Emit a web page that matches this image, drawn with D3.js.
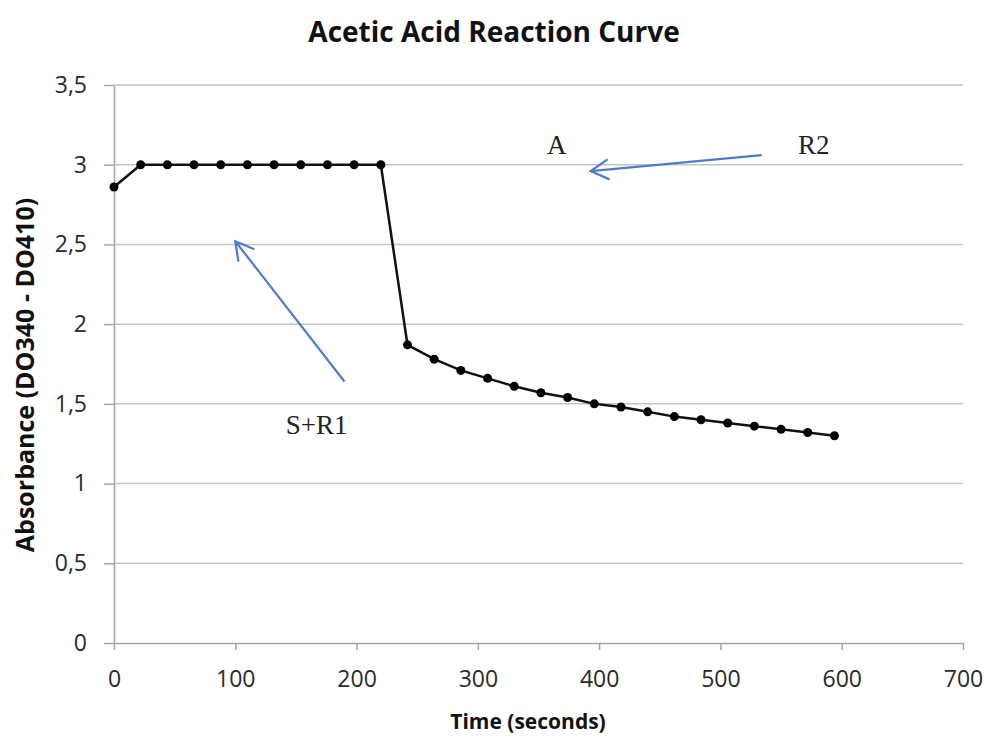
<!DOCTYPE html>
<html>
<head>
<meta charset="utf-8">
<script src="https://cdn.jsdelivr.net/npm/d3@7"></script>
<style>
  body { margin: 0; background: #fff; }
  text { font-family: "Open Sans", "DejaVu Sans", sans-serif; }
</style>
</head>
<body>
<script>
// data
const times = [0, 22, 44, 66, 88, 110, 132, 154, 176, 198, 220,
  242, 264, 286, 308, 330, 352, 374, 396, 418, 440, 462, 484, 506, 528, 550, 572, 594]
const absorbance = [2.86, 3.0, 3.0, 3.0, 3.0, 3.0, 3.0, 3.0, 3.0, 3.0, 3.0,
  1.87, 1.78, 1.71, 1.66, 1.61, 1.57, 1.54, 1.50, 1.48, 1.45, 1.42, 1.40, 1.38, 1.36, 1.34, 1.32, 1.30]
const xTicks = [0, 100, 200, 300, 400, 500, 600, 700]
const yTicks = [0, 0.5, 1, 1.5, 2, 2.5, 3, 3.5]

// annotations: label position, arrow from / to (data units)
const notes = [
  { label: 'S+R1', lx: 167, ly: 1.31, from: [190, 1.64], to: [100, 2.52] },
  { label: 'A', lx: 365, ly: 3.07, from: null, to: null },
  { label: 'R2', lx: 577, ly: 3.07, from: [534, 3.06], to: [393, 2.96] }
]

const w = 986
const h = 736
const margin = { top: 85, bottom: 93, left: 114, right: 23 }

const svg = d3.select('body')
  .append('svg')
  .attr('width', w)
  .attr('height', h)

const xScale = d3.scaleLinear()
  .domain([0, 700])
  .range([margin.left, w - margin.right])

const yScale = d3.scaleLinear()
  .domain([0, 3.5])
  .range([h - margin.bottom, margin.top])

// gridlines
svg.append('g')
  .selectAll('line')
  .data(yTicks.filter(d => d > 0))
  .enter()
  .append('line')
  .attr('x1', xScale(0))
  .attr('x2', xScale(700))
  .attr('y1', d => yScale(d))
  .attr('y2', d => yScale(d))
  .style('stroke', '#c4c4c4')
  .style('stroke-width', '1.5px')

// axes
const xAxis = d3.axisBottom(xScale)
  .tickValues(xTicks)
  .tickSize(7)
  .tickSizeOuter(0)
  .tickPadding(21)

svg.append('g')
  .attr('transform', `translate(0,${yScale(0)})`)
  .call(xAxis)

const yAxis = d3.axisLeft(yScale)
  .tickValues(yTicks)
  .tickSize(10)
  .tickSizeOuter(0)
  .tickPadding(17)
  .tickFormat(d => String(d).replace('.', ','))

svg.append('g')
  .attr('transform', `translate(${xScale(0)},0)`)
  .call(yAxis)

svg.selectAll('.domain, .tick line')
  .style('stroke', '#a6a6a6')
  .style('stroke-width', '1.5px')

svg.selectAll('.tick text')
  .style('font-size', '23px')
  .style('fill', '#2a2a2a')
  .style('font-family', '"Open Sans", sans-serif')

// series
const line = d3.line()
  .x((d, i) => xScale(times[i]))
  .y(d => yScale(d))

svg.append('path')
  .datum(absorbance)
  .attr('d', line)
  .style('fill', 'none')
  .style('stroke', '#111')
  .style('stroke-width', '2.5px')

svg.append('g')
  .selectAll('circle')
  .data(absorbance)
  .enter()
  .append('circle')
  .attr('cx', (d, i) => xScale(times[i]))
  .attr('cy', d => yScale(d))
  .attr('r', 4.5)
  .style('fill', '#000')

// arrows
svg.append('defs')
  .append('marker')
  .attr('id', 'head')
  .attr('viewBox', '-21 -12 23 24')
  .attr('refX', 0)
  .attr('refY', 0)
  .attr('markerWidth', 23)
  .attr('markerHeight', 24)
  .attr('markerUnits', 'userSpaceOnUse')
  .attr('orient', 'auto')
  .append('path')
  .attr('d', 'M-18,-10 L0,0 L-18,10')
  .style('fill', 'none')
  .style('stroke', '#4f7bcb')
  .style('stroke-width', '2.2px')

notes.filter(d => d.from).forEach(d => {
  svg.append('line')
    .attr('x1', xScale(d.from[0]))
    .attr('y1', yScale(d.from[1]))
    .attr('x2', xScale(d.to[0]))
    .attr('y2', yScale(d.to[1]))
    .style('stroke', '#4f7bcb')
    .style('stroke-width', '2.2px')
    .attr('marker-end', 'url(#head)')
})

svg.append('g')
  .selectAll('text')
  .data(notes)
  .enter()
  .append('text')
  .attr('x', d => xScale(d.lx))
  .attr('y', d => yScale(d.ly))
  .attr('text-anchor', 'middle')
  .style('font-family', '"Liberation Serif", serif')
  .style('font-size', '27px')
  .style('fill', '#222')
  .text(d => d.label)

// titles
svg.append('text')
  .attr('x', 494)
  .attr('y', 42)
  .attr('text-anchor', 'middle')
  .style('font-size', '28px')
  .style('font-weight', 'bold')
  .style('fill', '#111')
  .text('Acetic Acid Reaction Curve')

svg.append('text')
  .attr('x', 528)
  .attr('y', 729)
  .attr('text-anchor', 'middle')
  .style('font-size', '21px')
  .style('font-weight', 'bold')
  .style('fill', '#111')
  .text('Time (seconds)')

svg.append('text')
  .attr('transform', 'translate(34,375) rotate(-90)')
  .attr('text-anchor', 'middle')
  .style('font-size', '25px')
  .style('font-weight', 'bold')
  .style('fill', '#111')
  .text('Absorbance (DO340 - DO410)')
</script>
</body>
</html>
